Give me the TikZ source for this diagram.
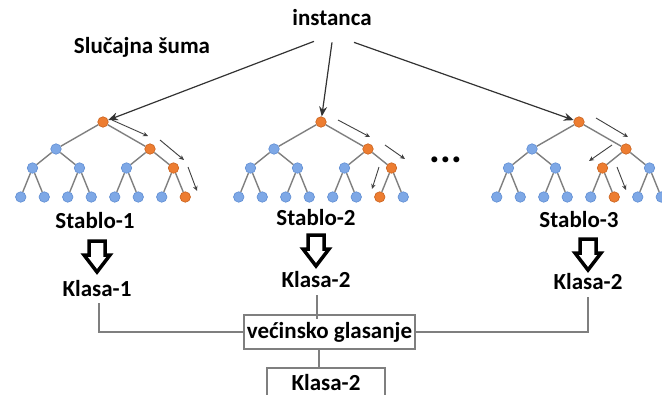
\documentclass[tikz,border=0pt]{standalone}
\usepackage{fontspec}
\setmainfont{Carlito}
\usetikzlibrary{calc,arrows.meta}

\definecolor{plava}{HTML}{7EA8E6}
\definecolor{plavarub}{HTML}{5F8DD3}
\definecolor{narand}{HTML}{ED7D31}
\definecolor{narandrub}{HTML}{C9621E}
\definecolor{siva}{HTML}{7F7F7F}

\tikzset{
  boja0/.style={circle,fill=plava,draw=plavarub,line width=0.6pt,inner sep=0pt,minimum size=10.5pt},
  boja1/.style={boja0,fill=narand,draw=narandrub},
  grana/.style={siva,line width=1.4pt},
  put/.style={-{Stealth[length=5pt,width=4.5pt]},line width=0.9pt,black!75},
  strelica/.style={-{Stealth[length=10pt,width=8pt]},line width=1.2pt,black!80},
  natpis/.style={font=\fontsize{23}{27}\selectfont\bfseries,inner sep=2pt},
  linija/.style={siva,line width=1.3pt},
  kutija/.style={natpis,draw=siva,line width=1.3pt,inner xsep=3pt}
}

% debela supljia strelica nadole: x sredine, y vrha
\newcommand{\blokstrel}[2]{
\filldraw[fill=white,line width=3.5pt,miter limit=3](#1-8,#2)--(#1+8,#2)--(#1+8,#2+14)--(#1+13,#2+14)
  --(#1,#2+31)--(#1-13,#2+14)--(#1-8,#2+14)--cycle;
}

\begin{document}
\begin{tikzpicture}[x=1pt,y=-1pt]
\useasboundingbox (0,0) rectangle (662,394);

% stabla: broj, sredina, narandzasti cvorovi po nivoima
\foreach \t/\c/\ob/\oc/\od in {1/103/1/3/7,2/321/1/3/6,3/579/1/2/5}{
  \node[boja1] (a\t) at (\c,122) {};
  \foreach \j in {0,1}{
    \pgfmathtruncatemacro\s{\j==\ob}
    \node[boja\s] (b\t\j) at ({\c+(\j-0.5)*94},149) {};
    \draw[grana] (a\t)--(b\t\j);
  }
  \foreach \j/\p in {0/0,1/0,2/1,3/1}{
    \pgfmathtruncatemacro\s{\j==\oc}
    \node[boja\s] (c\t\j) at ({\c+(\j-1.5)*47},168) {};
    \draw[grana] (b\t\p)--(c\t\j);
  }
  \foreach \k/\p in {0/0,1/0,2/1,3/1,4/2,5/2,6/3,7/3}{
    \pgfmathtruncatemacro\s{\k==\od}
    \node[boja\s] (d\t\k) at ({\c+(\k-3.5)*23.5},197) {};
    \draw[grana] (c\t\p)--(d\t\k);
  }
}

% putanje kroz stabla
\draw[put](112,120)--(148,136);
\draw[put](160,140)--(184,160);
\draw[put](188,167)--(197,191);
\draw[put](338,120)--(370,137);
\draw[put](385,145)--(405,159);
\draw[put](379,167)--(372,189);
\draw[put](596,118)--(628,137);
\draw[put](612,145)--(589,161);
\draw[put](617,167)--(626,190);

\node[natpis,font=\fontsize{40}{40}\selectfont\bfseries] (tacke) at (446,160) {...};

\node[natpis] (inst) at (332,18) {instanca};
\node[natpis] (suma) at (142,47) {Slučajna šuma};
\draw[strelica]([shift={(-18,13)}]inst.south)--([shift={(5,-15)}]a1);
\draw[strelica]([shift={(0,14)}]inst.south)--([shift={(1,-15)}]a2);
\draw[strelica]([shift={(22,14)}]inst.south)--([shift={(-21,-16)}]a3);

\node[natpis] (s1) at (95,221) {Stablo-1};
\node[natpis] (s2) at (316,218) {Stablo-2};
\node[natpis] (s3) at (579,220) {Stablo-3};

\blokstrel{97}{241}
\blokstrel{316}{235}
\blokstrel{588}{239}

\node[natpis] (k1) at (97,289) {Klasa-1};
\node[natpis] (k2) at (316,280) {Klasa-2};
\node[natpis] (k3) at (588,282) {Klasa-2};

\node[kutija,minimum height=34pt] (vg) at (329.5,332) {većinsko glasanje};
\node[kutija,minimum width=118pt,minimum height=30pt] (fin) at (326,383) {\raisebox{1pt}{Klasa-2}};

\draw[linija]([shift={(2,4)}]k1.south)|-(vg.west);
\draw[linija]([shift={(1,5)}]k2.south)--([shift={(1,5)}]k2.south|-vg.north);
\draw[linija]([shift={(0,5)}]k3.south)|-(vg.east);
\draw[linija]([xshift=-10.5pt]vg.south)--([xshift=-10.5pt]vg.south|-fin.north);

\end{tikzpicture}
\end{document}
